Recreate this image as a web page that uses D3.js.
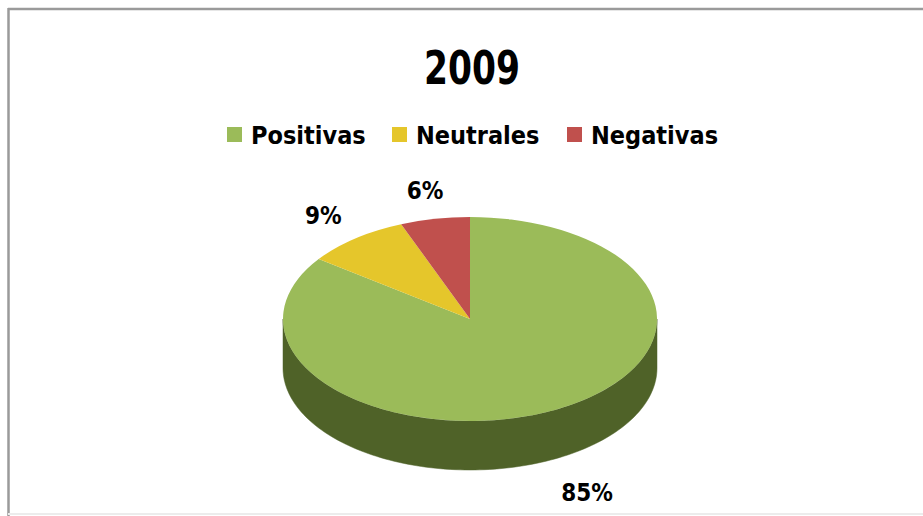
<!DOCTYPE html>
<html>
<head>
<meta charset="utf-8">
<script src="https://cdn.jsdelivr.net/npm/d3@7"></script>
<style>
  html, body { margin: 0; padding: 0; background: #fff; }
  svg { display: block; }
  text { font-family: "DejaVu Sans Condensed", "DejaVu Sans", sans-serif; font-weight: bold; fill: #000; }
</style>
</head>
<body>
<svg id="chart" width="923" height="516"></svg>
<script>
const title = "2009";
const categories = ["Positivas", "Neutrales", "Negativas"];
const values = [85, 9, 6];
const labels = ["85%", "9%", "6%"];
const topColors = ["#9bbb59", "#e5c62b", "#c0504d"];
const sideColors = ["#4f6228", "#8a7412", "#7a2e2c"];

const W = 923, H = 516;
const svg = d3.select("#chart");

// frame
svg.append("rect").attr("x", 0).attr("y", 0).attr("width", W).attr("height", H).attr("fill", "#fff");
svg.append("line").attr("x1", 8).attr("x2", W).attr("y1", 9).attr("y2", 9).attr("stroke", "#9a9a9a").attr("stroke-width", 2.5);
svg.append("line").attr("x1", 8.5).attr("x2", 8.5).attr("y1", 8).attr("y2", H).attr("stroke", "#9a9a9a").attr("stroke-width", 2.5);
svg.append("line").attr("x1", 8).attr("x2", W).attr("y1", 514).attr("y2", 514).attr("stroke", "#ececec").attr("stroke-width", 2);

// title
svg.append("text").attr("x", 472).attr("y", 68).attr("text-anchor", "middle")
  .attr("dominant-baseline", "central").style("font-size", "46px")
  .attr("textLength", 96).attr("lengthAdjust", "spacingAndGlyphs").text(title);

// legend
const legendX = d3.scaleOrdinal().domain(categories).range([227, 392, 567]);
const lg = svg.append("g").selectAll("g").data(categories).join("g")
  .attr("transform", d => `translate(${legendX(d)},135)`);
lg.append("rect").attr("x", 0).attr("y", -8).attr("width", 15).attr("height", 15)
  .attr("fill", (d, i) => topColors[i]);
lg.append("text").attr("x", 24).attr("y", 0).attr("dominant-baseline", "central")
  .style("font-size", "25px").text(d => d);

// 3D pie
const cx = 470, cy = 319, rx = 187, ry = 102, depth = 49;
const pie = d3.pie().sort(null).value(d => d).startAngle(0).endAngle(2 * Math.PI);
const arcs = pie(values);
const pt = (a, dy = 0) => [cx + rx * Math.sin(a), cy - ry * Math.cos(a) + dy];

// sides (visible front half: angles between PI/2 and 3PI/2)
const sideG = svg.append("g");
arcs.forEach((a, i) => {
  const s = Math.max(a.startAngle, Math.PI / 2), e = Math.min(a.endAngle, 3 * Math.PI / 2);
  if (e <= s) return;
  const n = 120;
  const angs = d3.range(n + 1).map(k => s + (e - s) * k / n);
  const pts = angs.map(t => pt(t)).concat(angs.slice().reverse().map(t => pt(t, depth)));
  sideG.append("path").attr("d", d3.line()(pts) + "Z").attr("fill", sideColors[i])
    .attr("stroke", sideColors[i]).attr("stroke-width", 0.5);
});

// top
const arc = d3.arc().innerRadius(0).outerRadius(rx);
svg.append("g").attr("transform", `translate(${cx},${cy}) scale(1,${ry / rx})`)
  .selectAll("path").data(arcs).join("path")
  .attr("d", arc).attr("fill", (d, i) => topColors[i]);

// labels
const mid = d => (d.startAngle + d.endAngle) / 2;
const isFront = d => Math.cos(mid(d)) < 0;
svg.append("g").selectAll("text").data(arcs).join("text")
  .attr("x", d => cx + rx * (isFront(d) ? 1.38 : 1.28) * Math.sin(mid(d)))
  .attr("y", d => isFront(d)
    ? cy - ry * 1.38 * Math.cos(mid(d)) + depth
    : cy - ry * 1.28 * Math.cos(mid(d)))
  .attr("text-anchor", "middle").attr("dominant-baseline", "central")
  .style("font-size", "24px").text((d, i) => labels[i]);
</script>
</body>
</html>
